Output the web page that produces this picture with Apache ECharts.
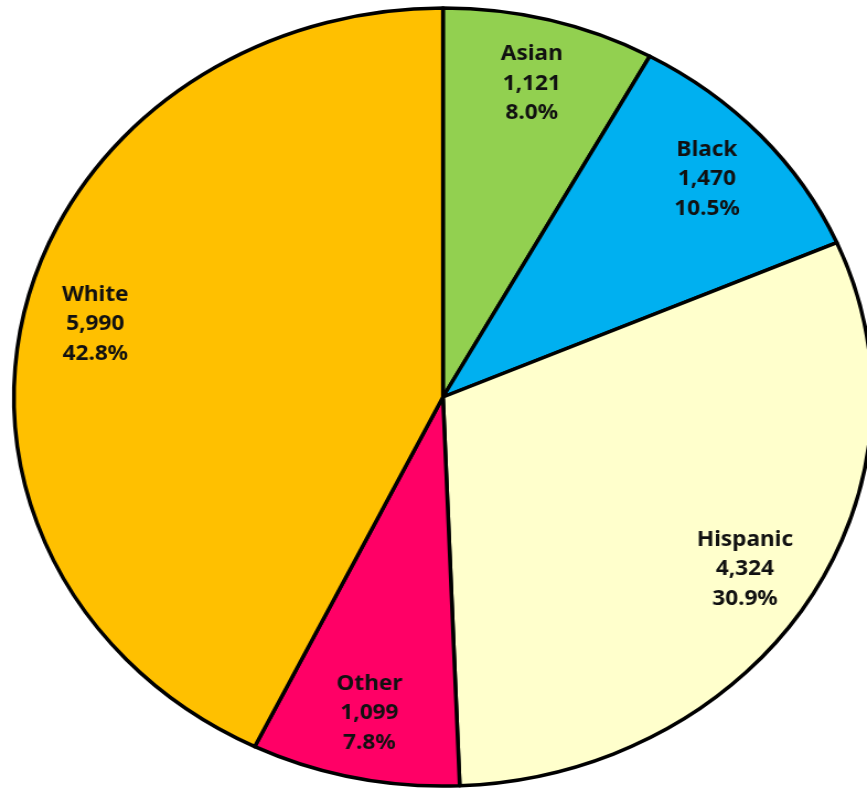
<!DOCTYPE html>
<html>
<head>
<meta charset="utf-8">
<script src="https://cdn.jsdelivr.net/npm/echarts@6/dist/echarts.min.js"></script>
<style>
html,body{margin:0;padding:0;background:#fff;overflow:hidden;}
#wrap{width:867px;height:788px;position:relative;overflow:hidden;}
#chart{width:786px;height:788px;position:absolute;left:0;top:0;transform:scaleX(1.103);transform-origin:0 0;}
</style>
</head>
<body>
<div id="wrap"><div id="chart"></div></div>
<script>
const categories = ['Asian', 'Black', 'Hispanic', 'Other', 'White'];
const values = [1121, 1470, 4324, 1099, 5990];
const colors = ['#92D050', '#00B0F0', '#FFFFCC', '#FF0066', '#FFC000'];

const total = values.reduce((a, b) => a + b, 0);
const data = categories.map((c, i) => ({ name: c, value: values[i], itemStyle: { color: colors[i] } }));
const labelData = categories.map((c, i) => ({ name: c, value: values[i] }));

const chart = echarts.init(document.getElementById('chart'), null, { renderer: 'canvas' });
chart.setOption({
  animation: false,
  series: [
    {
      type: 'pie',
      center: [401.6, 397],
      radius: [0, 389],
      startAngle: 90,
      clockwise: true,
      silent: true,
      label: { show: false },
      labelLine: { show: false },
      itemStyle: { borderColor: '#000', borderWidth: 3.5 },
      data: data
    },
    {
      type: 'pie',
      center: [401.6, 397],
      radius: [252, 389],
      startAngle: 90,
      clockwise: true,
      silent: true,
      itemStyle: { color: 'rgba(0,0,0,0)', borderWidth: 0 },
      labelLine: { show: false },
      label: {
        show: true,
        position: 'inside',
        formatter: p => p.name + '\n' + p.value.toLocaleString('en-US') + '\n' + (p.value / total * 100).toFixed(1) + '%',
        fontFamily: 'Noto Sans',
        fontWeight: 'bold',
        fontSize: 20.5,
        lineHeight: 29.5,
        color: '#111',
        align: 'center'
      },
      data: labelData
    }
  ]
});
</script>
</body>
</html>
